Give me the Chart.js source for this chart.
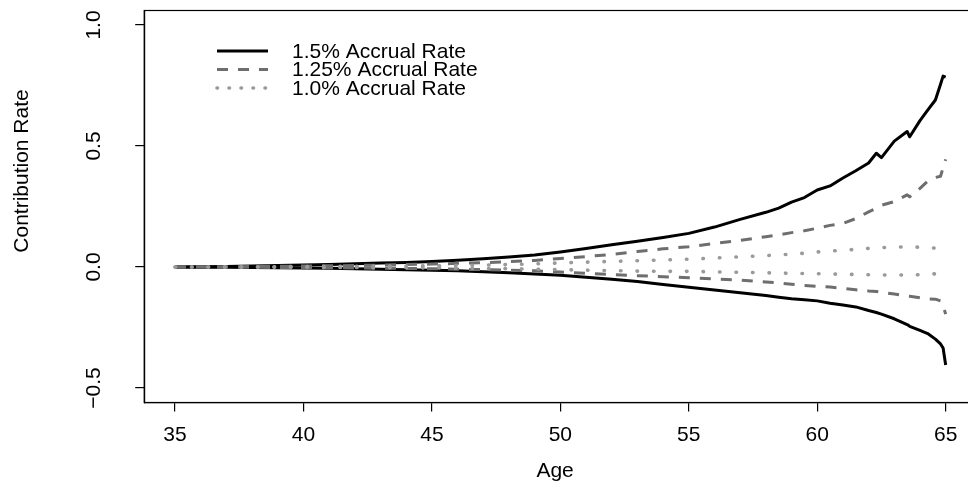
<!DOCTYPE html>
<html>
<head>
<meta charset="utf-8">
<script src="https://cdn.jsdelivr.net/npm/chart.js@4.4.1/dist/chart.umd.min.js"></script>
<style>
  html, body { margin: 0; padding: 0; background: #fff; overflow: hidden; }
  #wrap { width: 990px; height: 483px; }
</style>
</head>
<body>
<div id="wrap"><canvas id="chart1" width="990" height="483"></canvas></div>
<script>

const fontName = '"Liberation Sans", Arial, Helvetica, sans-serif'

const ages = [35,36,37,38,39,40,41,42,43,44,45,46,47,48,49,50,51,52,53,54,55,56,57,58,
              58.5,59,59.5,60,60.5,61,61.5,62,62.3,62.5,63,63.5,63.6,64,64.3,64.6,64.8,64.9,65];

// 1.5% accrual, upper and lower
const rate15Up = [0,0.001,0.002,0.004,0.006,0.008,0.010,0.013,0.016,0.019,0.023,0.028,0.034,0.041,0.050,0.062,0.076,0.092,0.106,0.122,0.139,0.165,0.197,0.226,
                  0.243,0.268,0.287,0.318,0.335,0.368,0.398,0.430,0.470,0.452,0.520,0.560,0.538,0.605,0.648,0.690,0.755,0.789,0.785];
const rate15Low = [0,-0.001,-0.001,-0.002,-0.003,-0.004,-0.005,-0.007,-0.009,-0.011,-0.013,-0.016,-0.020,-0.024,-0.029,-0.034,-0.042,-0.051,-0.060,-0.072,-0.084,-0.095,-0.106,-0.118,
                   -0.125,-0.131,-0.135,-0.140,-0.150,-0.157,-0.165,-0.180,-0.188,-0.195,-0.214,-0.238,-0.245,-0.262,-0.275,-0.298,-0.318,-0.335,-0.405];

// 1.25% accrual
const rate125Up = [0,0.0005,0.001,0.002,0.003,0.004,0.005,0.006,0.008,0.010,0.012,0.015,0.018,0.022,0.027,0.035,0.043,0.052,0.064,0.075,0.084,0.097,0.110,0.125,
                   0.133,0.142,0.150,0.160,0.172,0.180,0.200,0.228,0.243,0.255,0.270,0.298,0.290,0.325,0.355,0.370,0.375,0.410,0.445];
const rate125Low = [0,-0.0005,-0.001,-0.001,-0.002,-0.003,-0.003,-0.004,-0.005,-0.006,-0.007,-0.009,-0.011,-0.013,-0.016,-0.021,-0.026,-0.031,-0.036,-0.040,-0.044,-0.049,-0.054,-0.062,
                    -0.066,-0.071,-0.076,-0.080,-0.083,-0.088,-0.094,-0.099,-0.101,-0.105,-0.112,-0.120,-0.121,-0.127,-0.132,-0.133,-0.140,-0.160,-0.195];

// 1.0% accrual
const rate10Up = [0,0,0.0005,0.001,0.001,0.002,0.002,0.003,0.004,0.004,0.005,0.006,0.008,0.010,0.013,0.017,0.020,0.023,0.026,0.029,0.032,0.037,0.042,0.047,
                  0.050,0.053,0.057,0.062,0.066,0.069,0.073,0.077,0.078,0.080,0.083,0.082,0.082,0.082,0.081,0.078,0.060,0.052,0.050];
const rate10Low = [0,0,-0.0005,-0.001,-0.001,-0.001,-0.002,-0.002,-0.003,-0.003,-0.004,-0.005,-0.006,-0.007,-0.009,-0.011,-0.013,-0.015,-0.017,-0.018,-0.018,-0.020,-0.022,-0.024,
                   -0.025,-0.026,-0.027,-0.028,-0.029,-0.030,-0.031,-0.032,-0.032,-0.033,-0.033,-0.033,-0.033,-0.032,-0.030,-0.028,-0.026,-0.026,-0.025];

const xTicks = [35,40,45,50,55,60,65];
const yTicks = [-0.5,0,0.5,1.0];
const yTickLabels = ["\u22120.5","0.0","0.5","1.0"];

const legendLabels = ["1.5% Accrual Rate","1.25% Accrual Rate","1.0% Accrual Rate"];
const lineColors = ["#000000","#6e6e6e","#9a9a9a"];
const lineDashes = [[], [11,10], [0.5,16]];
const lineWidths = [3, 3, 3.6];

function pts(arr){
    return ages.map(function(a,i){ return {x:a, y:arr[i]}; });
}

function makeSet(arr, k){
    return {
        data: pts(arr),
        borderColor: lineColors[k],
        borderWidth: lineWidths[k],
        borderDash: lineDashes[k],
        borderCapStyle: k==2 ? 'round' : 'butt',
        borderJoinStyle: 'round',
        pointRadius: 0,
        fill: false,
        tension: 0,
        order: 3-k
    };
}

// R-like text, box and legend
const rText = {
    id: 'rText',
    afterDraw: function(chart){
        var ctx = chart.ctx;
        var a = chart.chartArea;
        var xs = chart.scales.x, ys = chart.scales.y;
        ctx.save();
        ctx.strokeStyle = '#000';
        ctx.lineWidth = 1.2;
        ctx.strokeRect(a.left, a.top, a.right-a.left, a.bottom-a.top);

        ctx.fillStyle = '#000';
        ctx.font = '21px ' + fontName;
        ctx.textAlign = 'center';
        ctx.textBaseline = 'alphabetic';
        xTicks.forEach(function(v){
            ctx.fillText(String(v), xs.getPixelForValue(v), 441);
        });
        ctx.fillText('Age', (a.left+968)/2 - 1, 477);

        yTicks.forEach(function(v,i){
            ctx.save();
            ctx.translate(100, ys.getPixelForValue(v));
            ctx.rotate(-Math.PI/2);
            ctx.fillText(yTickLabels[i], 0, 0);
            ctx.restore();
        });
        ctx.save();
        ctx.translate(27.5, 171);
        ctx.rotate(-Math.PI/2);
        ctx.fillText('Contribution Rate', 0, 0);
        ctx.restore();

        // legend
        var rowY = [51, 69.5, 88];
        ctx.textAlign = 'left';
        legendLabels.forEach(function(lab,k){
            ctx.save();
            ctx.strokeStyle = lineColors[k];
            ctx.lineWidth = lineWidths[k];
            ctx.setLineDash(k==2 ? [0.5,11.5] : lineDashes[k]);
            ctx.lineCap = k==2 ? 'round' : 'butt';
            ctx.beginPath();
            ctx.moveTo(217, rowY[k]);
            ctx.lineTo(268, rowY[k]);
            ctx.stroke();
            ctx.restore();
            ctx.fillText(lab, 292, rowY[k] + 6.5);
        });
        ctx.restore();
    }
};

var ctx = document.getElementById('chart1').getContext('2d');
var chart = new Chart(ctx, {
    type: 'line',
    data: {
        datasets: [
            makeSet(rate15Up,0), makeSet(rate15Low,0),
            makeSet(rate125Up,1), makeSet(rate125Low,1),
            makeSet(rate10Up,2), makeSet(rate10Low,2)
        ]
    },
    options: {
        responsive: false,
        animation: false,
        layout: { padding: { left: 0, right: 13.5, top: 10.5, bottom: 0 } },
        plugins: { legend: { display: false }, tooltip: { enabled: false } },
        scales: {
            x: {
                type: 'linear', min: 33.8, max: 66.2,
                afterBuildTicks: function(s){ s.ticks = xTicks.map(function(v){ return {value:v}; }); },
                afterFit: function(s){ s.height = 80.5; },
                ticks: { display: false },
                grid: { display: true, drawOnChartArea: false, drawTicks: true, tickLength: 9, color: '#000', lineWidth: 1.2 },
                border: { display: true, color: '#000', width: 1.2 }
            },
            y: {
                type: 'linear', min: -0.56, max: 1.06,
                afterBuildTicks: function(s){ s.ticks = yTicks.map(function(v){ return {value:v}; }); },
                afterFit: function(s){ s.width = 144.2; },
                ticks: { display: false },
                grid: { display: true, drawOnChartArea: false, drawTicks: true, tickLength: 9, color: '#000', lineWidth: 1.2 },
                border: { display: true, color: '#000', width: 1.2 }
            }
        }
    },
    plugins: [rText]
});
</script>
</body>
</html>
